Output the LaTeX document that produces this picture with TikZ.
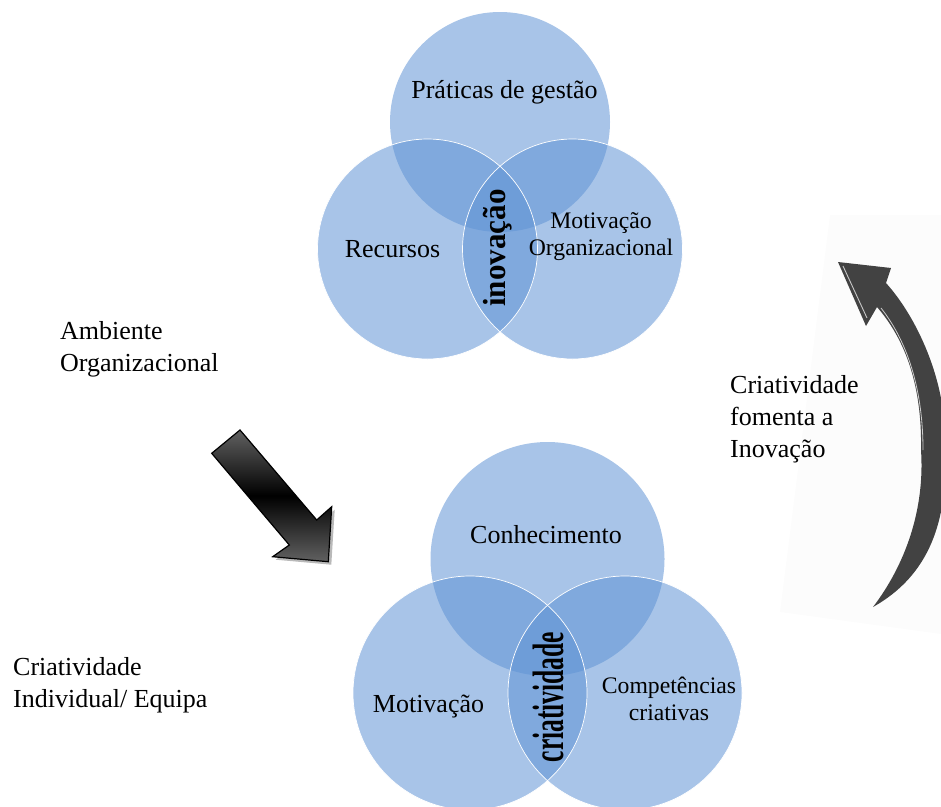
\documentclass[tikz,border=0pt]{standalone}
\usepackage{fontspec}
\setmainfont{Liberation Serif}
\usepackage{graphicx}
\definecolor{vennblue}{RGB}{94,146,212}
\begin{document}
\begin{tikzpicture}[x=1pt,y=-1pt,
  vcircle/.style={circle, inner sep=0pt, fill=vennblue, fill opacity=0.54, draw=none},
  vedge/.style={circle, inner sep=0pt, draw=white, line width=0.7pt, fill=none},
  lbl/.style={font=\fontsize{26}{32}\selectfont, inner sep=0pt},
  lbls/.style={font=\fontsize{23.7}{27}\selectfont, inner sep=0pt, align=center},
  core/.style={rotate=90, inner sep=0pt, text=black}]
\useasboundingbox (0,0) rectangle (941,806);
% faint backdrop of the curved arrow
\fill[gray!2.5] (830,215) -- (780,612) -- (941,634) -- (941,215) -- cycle;

% ---- top Venn (innovation)
\node[vcircle, minimum size=220pt] (pg) at (500,122) {};
\node[vcircle, minimum size=220pt] (rc) at (427.5,249) {};
\node[vcircle, minimum size=220pt] (mo) at (572.5,249) {};
\node[vedge, minimum size=220pt] at (rc) {};
\node[vedge, minimum size=220pt] at (mo) {};

% ---- bottom Venn (creativity)
\node[vcircle, minimum size=234pt] (co) at (547.5,559) {};
\node[vcircle, minimum size=234pt] (mt) at (470,693) {};
\node[vcircle, minimum size=234pt] (cc) at (625,693) {};
\node[vedge, minimum size=234pt] at (mt) {};
\node[vedge, minimum size=234pt] at (cc) {};

% ---- labels in circles
\node[lbl, anchor=base] (tpg) at (504.5,98) {Práticas de gestão};
\node[lbl, anchor=base] (trc) at (392.5,257) {Recursos};
\node[lbls, anchor=base] (tmo) at (601,255) {Motivação\\Organizacional};
\node[lbl, anchor=base] (tco) at (546,543) {Conhecimento};
\node[lbl, anchor=base] (tmt) at (428.5,712) {Motivação};
\node[lbls, anchor=base] (tcc) at (669,720) {Competências\\criativas};

\node[core, font=\fontsize{32}{32}\selectfont\bfseries] (inov) at (498,248) {\scalebox{0.97}[1]{inovação}};
\node[core, font=\fontsize{44}{44}\selectfont\bfseries] (cria) at (548,697) {\scalebox{0.58}[1]{criatividade}};

% ---- side texts
\node[lbl, anchor=base west, align=left] (amb) at (60,371) {Ambiente\\Organizacional};
\node[lbl, anchor=base west, align=left] (cfi) at (730,457) {Criatividade\\fomenta a\\Inovação};
\node[lbl, anchor=base west, align=left] (cie) at (13,707) {Criatividade\\Individual/ Equipa};

% ---- block arrow (environment -> creativity)
\fill[gray!55] (243,433) -- (319.7,523) -- (334.7,509.7) -- (331.3,564.7) -- (275.7,559.7) -- (292.3,548) -- (214.7,456.3) -- cycle;
\shadedraw[top color=black!62, bottom color=black!62, middle color=black, draw=black, line width=1.2pt, line join=miter]
  (240,430) -- (316.7,520) -- (331.7,506.7) -- (328.3,561.7) -- (272.7,556.7) -- (289.3,545) -- (211.7,453.3) -- cycle;

% ---- curved arrow (creativity fosters innovation)
\fill[black!74] (838,262) -- (891,268) -- (886,283)
  .. controls (915,315) and (948,380) .. (945,450)
  .. controls (948,520) and (930,575) .. (873,607)
  .. controls (905,565) and (925,510) .. (921,450)
  .. controls (922,395) and (910,345) .. (877,307)
  -- (866,326) -- cycle;
\draw[gray!40, line width=0.8pt] (881,308) .. controls (910,345) and (923,395) .. (923,450);
\draw[gray!45, line width=0.9pt] (843,266) -- (867,318);
\end{tikzpicture}
\end{document}
